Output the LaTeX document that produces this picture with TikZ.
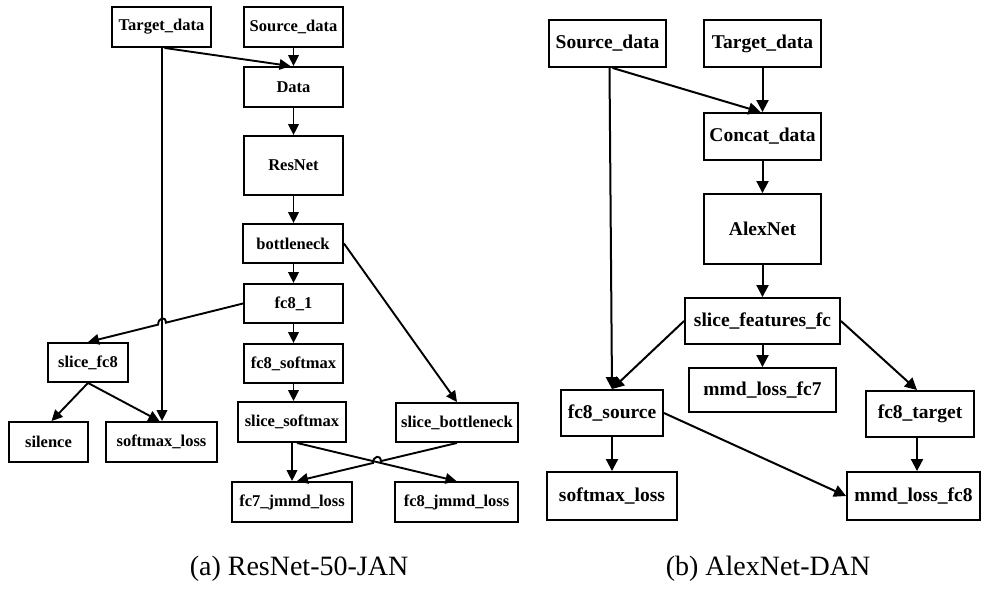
\documentclass[tikz,border=0pt]{standalone}
\usepackage{fontspec}
\setmainfont{Liberation Serif}
\usetikzlibrary{arrows.meta,calc}
\tikzset{
  blk/.style={draw, line width=1.9pt, inner sep=0pt, align=center, font=\bfseries\fontsize{16.5}{18}\selectfont},
  blkb/.style={blk, font=\bfseries\fontsize{19.5}{22}\selectfont},
  arr/.style={line width=1.9pt, -{Triangle[length=11pt,width=10.5pt]}},
  arrb/.style={line width=2pt, -{Triangle[length=12pt,width=12pt]}},
  captext/.style={font=\fontsize{28}{32}\selectfont, inner sep=0pt},
}
\begin{document}
\begin{tikzpicture}[x=1pt,y=-1pt]
\useasboundingbox (0,0) rectangle (987,594);
\fill[white] (0,0) rectangle (987,594);

% ---------- (a) ResNet-50-JAN ----------
\node[blk, minimum width=99pt, minimum height=40pt] (tgtA) at (161.5,27) {Target\_data};
\node[blk, minimum width=99pt, minimum height=40pt] (srcA) at (293.5,27) {Source\_data};
\node[blk, minimum width=99pt, minimum height=40pt] (dataA) at (293.5,87) {Data};
\node[blk, minimum width=99pt, minimum height=59pt] (resnet) at (293.5,165.5) {ResNet};
\node[blk, minimum width=100pt, minimum height=39pt] (bneck) at (293,243.5) {bottleneck};
\node[blk, minimum width=99pt, minimum height=39pt] (fceight) at (293.5,303.5) {fc8\_1};
\node[blk, minimum width=99pt, minimum height=39pt] (fcsoft) at (293.5,363.5) {fc8\_softmax};
\node[blk, minimum width=108pt, minimum height=40pt] (slsoft) at (292,422) {slice\_softmax};
\node[blk, minimum width=80pt, minimum height=39pt] (slfc) at (88,362.5) {slice\_fc8};
\node[blk, minimum width=79pt, minimum height=40pt] (silence) at (48.5,442) {silence};
\node[blk, minimum width=111pt, minimum height=40pt] (smlA) at (161.5,442) {softmax\_loss};
\node[blk, minimum width=122pt, minimum height=39pt] (slbneck) at (457,422.5) {slice\_bottleneck};
\node[blk, minimum width=120pt, minimum height=40pt] (jmmdseven) at (292,502) {fc7\_jmmd\_loss};
\node[blk, minimum width=123pt, minimum height=40pt] (jmmdeight) at (456.5,502) {fc8\_jmmd\_loss};

\coordinate (tgtdown) at ([xshift=0.5pt]tgtA.south);
\coordinate (smlin) at ([xshift=0.5pt]smlA.north);

\draw[arr] (srcA) -- (dataA);
\draw[arr] ([xshift=3pt]tgtA.south) -- ([xshift=-3pt]dataA.north);
\draw[arr] (dataA) -- (resnet);
\draw[arr] (resnet) -- (bneck.north -| resnet.south);
\draw[arr] (bneck.south -| fceight.north) -- (fceight);
\draw[arr] (fceight) -- (fcsoft);
\draw[arr] (fcsoft.south) -- (fcsoft.south |- slsoft.north);
\draw[arr] (tgtdown) -- (smlin);
\draw[arr] (bneck.east) -- (slbneck.north);
\draw[arr] (slfc.south) -- ([xshift=3pt]silence.north);
\draw[arr] (slfc.south) -- ([xshift=-2pt]smlA.north);
\draw[arr] (slsoft.south) -- (jmmdseven.north);
\draw[arr] ([xshift=5pt]slsoft.south) -- (jmmdeight.north);

% connectors that hop over a crossing line
\coordinate (xa) at (intersection of fceight.west--slfc.north and tgtdown--smlin);
\draw[arr] (fceight.west) -- ($(xa)!4pt!(fceight.west)$)
  .. controls +(0,-7) and +(0,-7) .. ($(xa)!4pt!(slfc.north)$) -- (slfc.north);
\coordinate (jin) at ([xshift=5pt]jmmdseven.north);
\coordinate (sout) at ([xshift=5pt]slsoft.south);
\coordinate (xb) at (intersection of slbneck.south--jin and sout--jmmdeight.north);
\draw[arr] (slbneck.south) -- ($(xb)!4pt!(slbneck.south)$)
  .. controls +(0,-7) and +(0,-7) .. ($(xb)!4pt!(jin)$) -- (jin);

\node[captext] (capa) at (299,569) {(a) ResNet-50-JAN};

% ---------- (b) AlexNet-DAN ----------
\node[blkb, minimum width=117pt, minimum height=47pt] (srcB) at (607.5,43.5) {Source\_data};
\node[blkb, minimum width=117pt, minimum height=47pt] (tgtB) at (762.5,43.5) {Target\_data};
\node[blkb, minimum width=117pt, minimum height=47pt] (concat) at (762.5,136.5) {Concat\_data};
\node[blkb, minimum width=117pt, minimum height=70pt] (alex) at (762.5,229) {AlexNet};
\node[blkb, minimum width=155pt, minimum height=46pt] (slfeat) at (762.5,321) {slice\_features\_fc};
\node[blkb, minimum width=147pt, minimum height=44pt] (mmdseven) at (762.5,390) {mmd\_loss\_fc7};
\node[blkb, minimum width=102pt, minimum height=46pt] (fcsrc) at (612,413) {fc8\_source};
\node[blkb, minimum width=108pt, minimum height=46pt] (fctgt) at (920,414) {fc8\_target};
\node[blkb, minimum width=130pt, minimum height=48pt] (smlB) at (612,496) {softmax\_loss};
\node[blkb, minimum width=133pt, minimum height=48pt] (mmdeight) at (913.5,496) {mmd\_loss\_fc8};

\draw[arrb] ([xshift=2pt]srcB.south) -- (fcsrc.north);
\draw[arrb] ([xshift=5pt]srcB.south) -- ([xshift=-2pt]concat.north);
\draw[arrb] (tgtB) -- (concat);
\draw[arrb] (concat) -- (alex);
\draw[arrb] (alex) -- (slfeat);
\draw[arrb] (slfeat) -- (mmdseven);
\draw[arrb] (slfeat.west) -- (fcsrc.north);
\draw[arrb] (slfeat.east) -- ([xshift=-3pt]fctgt.north);
\draw[arrb] (fcsrc) -- (smlB);
\draw[arrb] (fcsrc.east) -- (mmdeight.west);
\draw[arrb] ([xshift=-3pt]fctgt.south) -- ([xshift=-3pt]fctgt.south |- mmdeight.north);

\node[captext] (capb) at (768,569) {(b) AlexNet-DAN};
\end{tikzpicture}
\end{document}
